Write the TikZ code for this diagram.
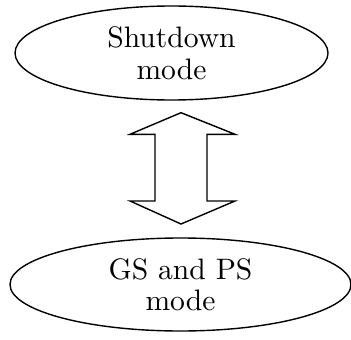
\documentclass[tikz,border=0pt]{standalone}
\usetikzlibrary{shapes.geometric}
% the 10pt design of Latin Modern, scaled up, for the state labels
\font\statefont="[lmroman10-regular.otf]" at 29.6pt
\newcommand\statetype{\statefont\baselineskip=31.5pt\relax}
\begin{document}
\begin{tikzpicture}[x=1pt,y=-1pt,
  state/.style={draw, ellipse, line width=1.4pt, inner sep=0pt, align=center,
    font=\statetype},
  link/.style={draw, line width=1.4pt, line join=miter, fill=white}]
\useasboundingbox (0,0) rectangle (351,340);
\node[state, minimum width=313pt, minimum height=94pt] (sd) at (171.5,53) {Shutdown\\mode};
\node[state, minimum width=341pt, minimum height=93pt] (gp) at (180.5,284.5) {GS and PS\\mode};
% two-headed arrow between the two modes
\path[link] (181,112.7) -- (235,134.3) -- (207,134.3) -- (207,201) -- (235,201)
  -- (181,224) -- (130,201) -- (155,201) -- (155,134.3) -- (130,134.3) -- cycle;
\end{tikzpicture}
\end{document}
